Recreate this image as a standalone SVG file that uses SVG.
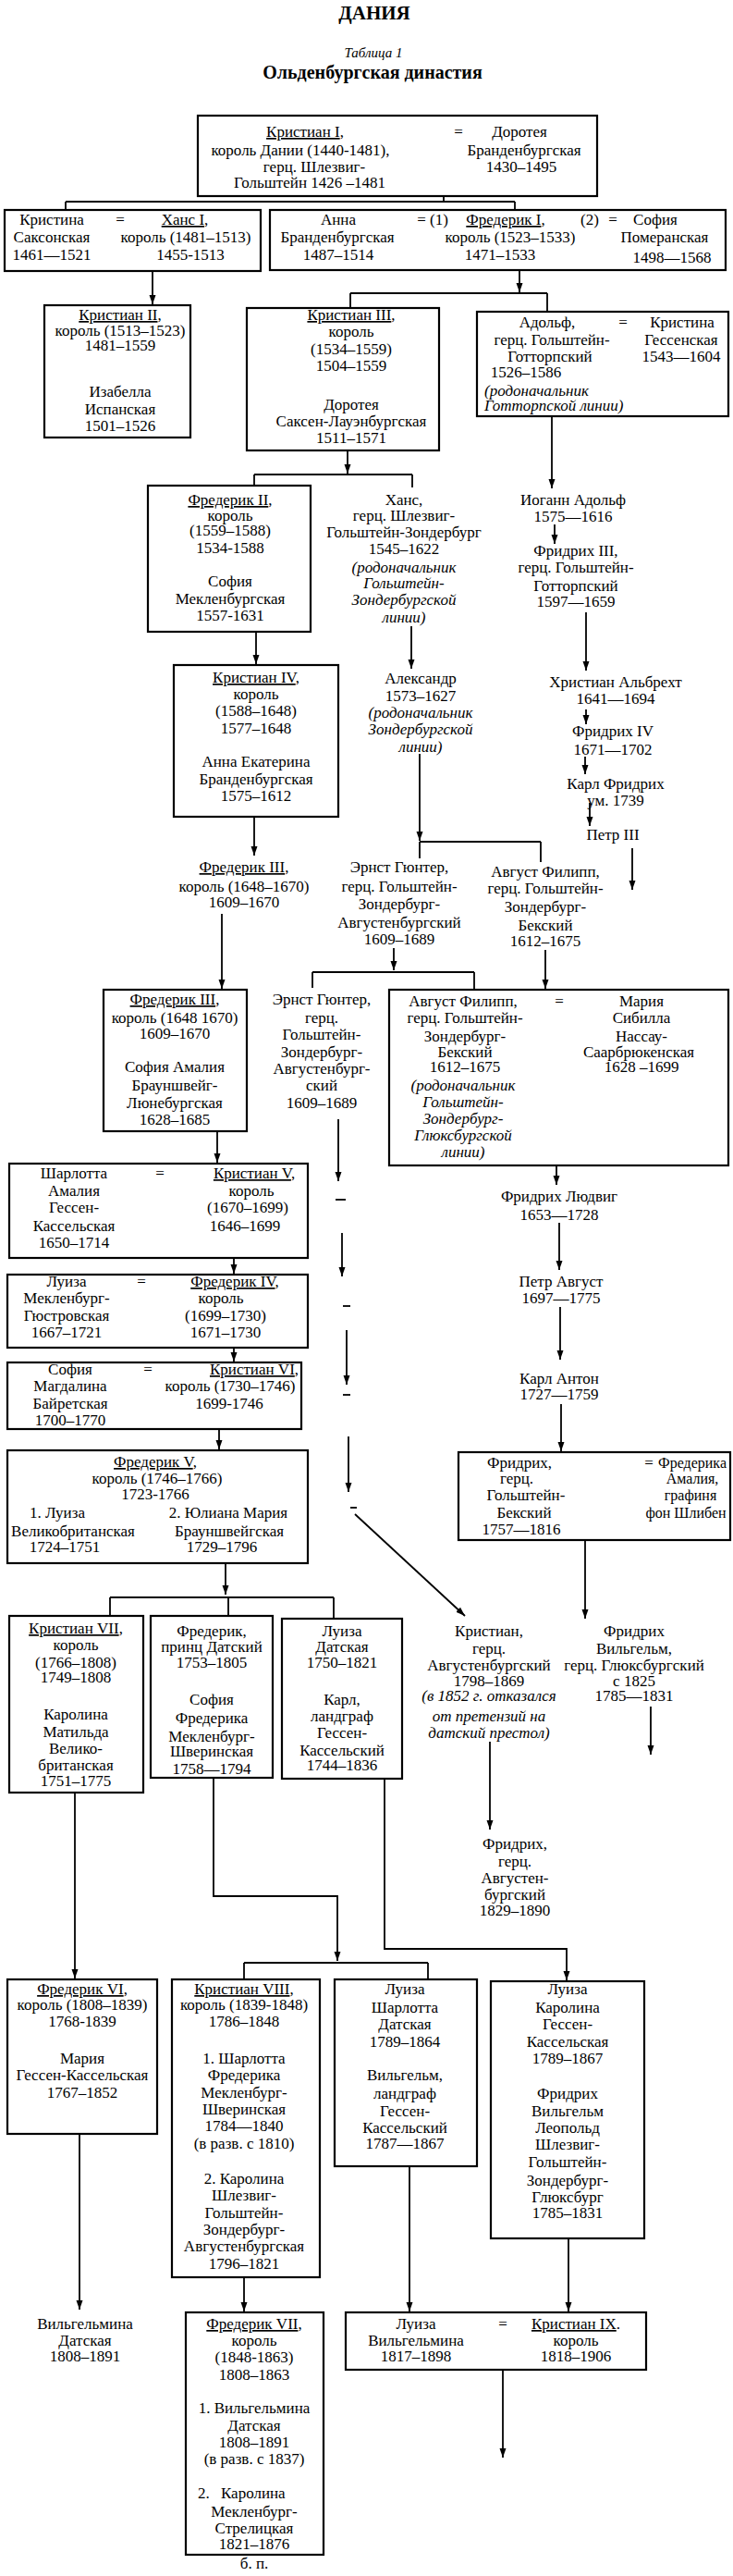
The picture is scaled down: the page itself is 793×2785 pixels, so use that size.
<svg xmlns="http://www.w3.org/2000/svg" width="793" height="2785" viewBox="0 0 793 2785">
<style>
text{font-family:"Liberation Serif","Times New Roman",serif;font-size:17px;fill:#000;text-anchor:middle}
.t{font-weight:bold}
.i{font-style:italic}
.s{text-anchor:start}
.n{font-size:16px}
.b{fill:#fff;stroke:#000;stroke-width:2.2}
.c{fill:none;stroke:#000;stroke-width:1.8}
.a{marker-end:url(#ah)}
</style>
<defs>
<marker id="ah" viewBox="0 0 10 10" refX="10" refY="5" markerWidth="10" markerHeight="10" markerUnits="userSpaceOnUse" orient="auto"><path d="M0,1.5 L10,5 L0,8.5 z" fill="#000"/></marker>
</defs>
<rect width="793" height="2785" fill="#fff"/>
<g id="title">
<text x="405" y="21" class="t" style="font-size:21px">ДАНИЯ</text>
<text x="404" y="62" class="i" style="font-size:15px">Таблица 1</text>
<text x="403" y="85" class="t" style="font-size:20px">Ольденбургская династия</text>
</g>
<g id="connectors">
<path class="c" d="M480,212 V218 M71,218 H557 M71,218 V227 M557,218 V227"/>
<path class="c a" d="M165,293 V329"/>
<path class="c a" d="M562,292 V316"/>
<path class="c" d="M379,317 H592 M379,317 V333 M592,317 V337"/>
<path class="c a" d="M597,450 V528"/>
<path class="c a" d="M376,487 V512"/>
<path class="c" d="M275,513 H446 M275,513 V525 M446,513 V527"/>
<path class="c a" d="M445,677 V723"/>
<path class="c a" d="M600,567 V588"/>
<path class="c a" d="M634,662 V725"/>
<path class="c a" d="M277,683 V718"/>
<path class="c a" d="M454,815 V909"/>
<path class="c" d="M454,910 H585 M454,910 V928 M585,910 V932"/>
<path class="c a" d="M634,767 V783"/>
<path class="c a" d="M633,818 V837"/>
<path class="c a" d="M638,868 V893"/>
<path class="c a" d="M684,917 V962"/>
<path class="c a" d="M275,883 V925"/>
<path class="c a" d="M240,988 V1069"/>
<path class="c a" d="M426,1025 V1049"/>
<path class="c" d="M338,1051 H513 M338,1051 V1068 M513,1051 V1070"/>
<path class="c a" d="M590,1027 V1069"/>
<path class="c a" d="M602,1260 V1281"/>
<path class="c a" d="M605,1322 V1373"/>
<path class="c a" d="M606,1413 V1470"/>
<path class="c a" d="M607,1518 V1569"/>
<path class="c a" d="M633,1665 V1750"/>
<path class="c a" d="M704,1845 V1897"/>
<path class="c a" d="M235,1223 V1257"/>
<path class="c a" d="M253,1360 V1377"/>
<path class="c a" d="M253,1457 V1472"/>
<path class="c a" d="M237,1545 V1567"/>
<path class="c a" d="M244,1690 V1724"/>
<path class="c" d="M119,1727 H361 M119,1727 V1747 M247,1727 V1747 M361,1727 V1750"/>
<path class="c a" d="M366,1210 V1277"/>
<path class="c" d="M363,1297 H374"/>
<path class="c a" d="M370,1333 V1380"/>
<path class="c" d="M371,1412 H379"/>
<path class="c a" d="M375,1438 V1497"/>
<path class="c" d="M371,1508 H379"/>
<path class="c a" d="M377,1553 V1613"/>
<path class="c" d="M379,1630 H386"/>
<path class="c a" d="M384,1637 L503,1747"/>
<path class="c a" d="M530,1883 V1978"/>
<path class="c a" d="M81,1938 V2139"/>
<path class="c a" d="M231,1922 V2050 H365 V2120"/>
<path class="c" d="M264,2122 H463 M264,2122 V2140 M463,2122 V2140"/>
<path class="c a" d="M416,1923 V2107 H613 V2141"/>
<path class="c a" d="M86,2307 V2497"/>
<path class="c a" d="M264,2462 V2499"/>
<path class="c a" d="M443,2342 V2499"/>
<path class="c a" d="M615,2420 V2499"/>
<path class="c a" d="M544,2562 V2657"/>
</g>
<g id="christian1">
<rect class="b" x="214" y="125" width="432" height="87"/>
<text x="330" y="148"><tspan text-decoration="underline">Кристиан I</tspan>,</text>
<text x="496" y="148">=</text>
<text x="562" y="148">Доротея</text>
<text x="325" y="168">король Дании (1440-1481),</text>
<text x="567" y="168">Бранденбургская</text>
<text x="340" y="186">герц.  Шлезвиг-</text>
<text x="564" y="186">1430–1495</text>
<text x="335" y="203">Гольштейн 1426 –1481</text>
</g>
<g id="hans1">
<rect class="b" x="5" y="227" width="277" height="66"/>
<text x="56" y="243">Кристина</text>
<text x="130" y="243">=</text>
<text x="200" y="243"><tspan text-decoration="underline">Ханс I</tspan>,</text>
<text x="56" y="262">Саксонская</text>
<text x="201" y="262">король (1481–1513)</text>
<text x="56" y="281">1461—1521</text>
<text x="206" y="281">1455-1513</text>
</g>
<g id="frederik1">
<rect class="b" x="292" y="227" width="493" height="65"/>
<text x="366" y="243">Анна</text>
<text x="468" y="243">= (1)</text>
<text x="547" y="243"><tspan text-decoration="underline">Фредерик I</tspan>,</text>
<text x="638" y="243">(2)</text>
<text x="663" y="243">=</text>
<text x="709" y="243">София</text>
<text x="365" y="262">Бранденбургская</text>
<text x="552" y="262">король (1523–1533)</text>
<text x="719" y="262">Померанская</text>
<text x="366" y="281">1487–1514</text>
<text x="541" y="281">1471–1533</text>
<text x="727" y="284">1498—1568</text>
</g>
<g id="christian2">
<rect class="b" x="48" y="330" width="158" height="143"/>
<text x="130" y="346"><tspan text-decoration="underline">Кристиан II</tspan>,</text>
<text x="130" y="363">король (1513–1523)</text>
<text x="130" y="379">1481–1559</text>
<text x="130" y="429">Изабелла</text>
<text x="130" y="448">Испанская</text>
<text x="130" y="466">1501–1526</text>
</g>
<g id="christian3">
<rect class="b" x="267" y="333" width="208" height="154"/>
<text x="380" y="346"><tspan text-decoration="underline">Кристиан III</tspan>,</text>
<text x="380" y="364">король</text>
<text x="380" y="383">(1534–1559)</text>
<text x="380" y="401">1504–1559</text>
<text x="380" y="443">Доротея</text>
<text x="380" y="461">Саксен-Лауэнбургская</text>
<text x="380" y="479">1511–1571</text>
</g>
<g id="adolf">
<rect class="b" x="516" y="337" width="272" height="113"/>
<text x="592" y="354">Адольф,</text>
<text x="674" y="354">=</text>
<text x="738" y="354">Кристина</text>
<text x="597" y="373">герц. Гольштейн-</text>
<text x="737" y="373">Гессенская</text>
<text x="595" y="391">Готторпский</text>
<text x="737" y="391">1543—1604</text>
<text x="569" y="408">1526–1586</text>
<text x="524" y="428" class="i s">(родоначальник</text>
<text x="524" y="444" class="i s">Готторпской линии)</text>
</g>
<g id="frederik2">
<rect class="b" x="160" y="525" width="176" height="158"/>
<text x="249" y="546"><tspan text-decoration="underline">Фредерик II</tspan>,</text>
<text x="249" y="563">король</text>
<text x="249" y="579">(1559–1588)</text>
<text x="249" y="598">1534-1588</text>
<text x="249" y="634">София</text>
<text x="249" y="653">Мекленбургская</text>
<text x="249" y="671">1557-1631</text>
</g>
<g id="hans">
<text x="437" y="546">Ханс,</text>
<text x="437" y="563">герц. Шлезвиг-</text>
<text x="437" y="581">Гольштейн-Зондербург</text>
<text x="437" y="599">1545–1622</text>
<text x="437" y="619" class="i">(родоначальник</text>
<text x="437" y="636" class="i">Гольштейн-</text>
<text x="437" y="654" class="i">Зондербургской</text>
<text x="437" y="673" class="i">линии)</text>
</g>
<g id="johann-adolf">
<text x="620" y="546">Иоганн Адольф</text>
<text x="620" y="564">1575—1616</text>
</g>
<g id="friedrich3-g">
<text x="623" y="601">Фридрих III,</text>
<text x="623" y="619">герц. Гольштейн-</text>
<text x="623" y="639">Готторпский</text>
<text x="623" y="656">1597—1659</text>
</g>
<g id="christian4">
<rect class="b" x="188" y="719" width="178" height="164"/>
<text x="277" y="738"><tspan text-decoration="underline">Кристиан IV</tspan>,</text>
<text x="277" y="756">король</text>
<text x="277" y="774">(1588–1648)</text>
<text x="277" y="793">1577–1648</text>
<text x="277" y="829">Анна Екатерина</text>
<text x="277" y="848">Бранденбургская</text>
<text x="277" y="866">1575–1612</text>
</g>
<g id="alexander">
<text x="455" y="739">Александр</text>
<text x="455" y="758">1573–1627</text>
<text x="455" y="776" class="i">(родоначальник</text>
<text x="455" y="794" class="i">Зондербургской</text>
<text x="455" y="813" class="i">линии)</text>
</g>
<g id="christian-albrecht">
<text x="666" y="743">Христиан Альбрехт</text>
<text x="666" y="761">1641—1694</text>
</g>
<g id="friedrich4-g">
<text x="663" y="796">Фридрих IV</text>
<text x="663" y="816">1671—1702</text>
</g>
<g id="karl-friedrich">
<text x="666" y="853">Карл Фридрих</text>
<text x="666" y="871">ум. 1739</text>
</g>
<g id="peter3">
<text x="663" y="908">Петр III</text>
</g>
<g id="frederik3-a">
<text x="264" y="943"><tspan text-decoration="underline">Фредерик III</tspan>,</text>
<text x="264" y="964">король (1648–1670)</text>
<text x="264" y="981">1609–1670</text>
</g>
<g id="ernst-a">
<text x="432" y="943">Эрнст Гюнтер,</text>
<text x="432" y="964">герц. Гольштейн-</text>
<text x="432" y="983">Зондербург-</text>
<text x="432" y="1003">Августенбургский</text>
<text x="432" y="1021">1609–1689</text>
</g>
<g id="august-a">
<text x="590" y="948">Август Филипп,</text>
<text x="590" y="966">герц. Гольштейн-</text>
<text x="590" y="986">Зондербург-</text>
<text x="590" y="1006">Бекский</text>
<text x="590" y="1023">1612–1675</text>
</g>
<g id="frederik3-b">
<rect class="b" x="112" y="1070" width="155" height="153"/>
<text x="189" y="1086"><tspan text-decoration="underline">Фредерик III</tspan>,</text>
<text x="189" y="1106">король (1648 1670)</text>
<text x="189" y="1123">1609–1670</text>
<text x="189" y="1159">София Амалия</text>
<text x="189" y="1179">Брауншвейг-</text>
<text x="189" y="1198">Люнебургская</text>
<text x="189" y="1216">1628–1685</text>
</g>
<g id="ernst-b">
<text x="348" y="1086">Эрнст Гюнтер,</text>
<text x="348" y="1106">герц.</text>
<text x="348" y="1124">Гольштейн-</text>
<text x="348" y="1143">Зондербург-</text>
<text x="348" y="1161">Августенбург-</text>
<text x="348" y="1179">ский</text>
<text x="348" y="1198">1609–1689</text>
</g>
<g id="august-b">
<rect class="b" x="421" y="1070" width="367" height="190"/>
<text x="501" y="1088">Август Филипп,</text>
<text x="605" y="1088">=</text>
<text x="694" y="1088">Мария</text>
<text x="503" y="1106">герц. Гольштейн-</text>
<text x="694" y="1106">Сибилла</text>
<text x="503" y="1126">Зондербург-</text>
<text x="694" y="1126">Нассау-</text>
<text x="503" y="1143">Бекский</text>
<text x="691" y="1143">Саарбрюкенская</text>
<text x="503" y="1159">1612–1675</text>
<text x="694" y="1159">1628 –1699</text>
<text x="501" y="1179" class="i">(родоначальник</text>
<text x="501" y="1197" class="i">Гольштейн-</text>
<text x="501" y="1215" class="i">Зондербург-</text>
<text x="501" y="1233" class="i">Глюксбургской</text>
<text x="501" y="1251" class="i">линии)</text>
</g>
<g id="friedrich-ludwig">
<text x="605" y="1299">Фридрих Людвиг</text>
<text x="605" y="1319">1653—1728</text>
</g>
<g id="peter-august">
<text x="607" y="1391">Петр Август</text>
<text x="607" y="1409">1697—1775</text>
</g>
<g id="karl-anton">
<text x="605" y="1496">Карл Антон</text>
<text x="605" y="1513">1727—1759</text>
</g>
<g id="friedrich-beck">
<rect class="b" x="496" y="1570" width="294" height="95"/>
<text x="562" y="1587">Фридрих,</text>
<text x="702" y="1587">=</text>
<text x="749" y="1587" class="n">Фредерика</text>
<text x="559" y="1604">герц.</text>
<text x="749" y="1604" class="n">Амалия,</text>
<text x="569" y="1622">Гольштейн-</text>
<text x="747" y="1622" class="n">графиня</text>
<text x="567" y="1641">Бекский</text>
<text x="742" y="1641" class="n">фон Шлибен</text>
<text x="564" y="1659">1757—1816</text>
</g>
<g id="friedrich-wilhelm">
<text x="686" y="1769">Фридрих</text>
<text x="686" y="1788">Вильгельм,</text>
<text x="686" y="1806">герц. Глюксбургский</text>
<text x="686" y="1823">с 1825</text>
<text x="686" y="1839">1785—1831</text>
</g>
<g id="christian5">
<rect class="b" x="10" y="1258" width="323" height="102"/>
<text x="80" y="1274">Шарлотта</text>
<text x="173" y="1274">=</text>
<text x="275" y="1274"><tspan text-decoration="underline">Кристиан V</tspan>,</text>
<text x="80" y="1293">Амалия</text>
<text x="272" y="1293">король</text>
<text x="80" y="1311">Гессен-</text>
<text x="268" y="1311">(1670–1699)</text>
<text x="80" y="1331">Кассельская</text>
<text x="265" y="1331">1646–1699</text>
<text x="80" y="1349">1650–1714</text>
</g>
<g id="frederik4">
<rect class="b" x="8" y="1378" width="325" height="79"/>
<text x="72" y="1391">Луиза</text>
<text x="153" y="1391">=</text>
<text x="254" y="1391"><tspan text-decoration="underline">Фредерик IV</tspan>,</text>
<text x="72" y="1409">Мекленбург-</text>
<text x="239" y="1409">король</text>
<text x="72" y="1428">Гюстровская</text>
<text x="244" y="1428">(1699–1730)</text>
<text x="72" y="1446">1667–1721</text>
<text x="244" y="1446">1671–1730</text>
</g>
<g id="christian6">
<rect class="b" x="8" y="1473" width="318" height="72"/>
<text x="76" y="1486">София</text>
<text x="160" y="1486">=</text>
<text x="275" y="1486"><tspan text-decoration="underline">Кристиан VI</tspan>,</text>
<text x="76" y="1504">Магдалина</text>
<text x="249" y="1504">король (1730–1746)</text>
<text x="76" y="1523">Байретская</text>
<text x="248" y="1523">1699-1746</text>
<text x="76" y="1541">1700–1770</text>
</g>
<g id="frederik5">
<rect class="b" x="8" y="1568" width="325" height="122"/>
<text x="168" y="1586"><tspan text-decoration="underline">Фредерик V</tspan>,</text>
<text x="170" y="1604">король (1746–1766)</text>
<text x="168" y="1621">1723-1766</text>
<text x="62" y="1641">1. Луиза</text>
<text x="247" y="1641">2. Юлиана Мария</text>
<text x="79" y="1661">Великобританская</text>
<text x="248" y="1661">Брауншвейгская</text>
<text x="70" y="1678">1724–1751</text>
<text x="240" y="1678">1729–1796</text>
</g>
<g id="christian7">
<rect class="b" x="10" y="1747" width="145" height="191"/>
<text x="82" y="1766"><tspan text-decoration="underline">Кристиан VII</tspan>,</text>
<text x="82" y="1784">король</text>
<text x="82" y="1803">(1766–1808)</text>
<text x="82" y="1819">1749–1808</text>
<text x="82" y="1859">Каролина</text>
<text x="82" y="1878">Матильда</text>
<text x="82" y="1896">Велико-</text>
<text x="82" y="1914">британская</text>
<text x="82" y="1931">1751–1775</text>
</g>
<g id="frederik-prince">
<rect class="b" x="163" y="1747" width="132" height="175"/>
<text x="229" y="1769">Фредерик,</text>
<text x="229" y="1786">принц Датский</text>
<text x="229" y="1803">1753–1805</text>
<text x="229" y="1843">София</text>
<text x="229" y="1863">Фредерика</text>
<text x="229" y="1883">Мекленбург-</text>
<text x="229" y="1899">Шверинская</text>
<text x="229" y="1918">1758—1794</text>
</g>
<g id="louise-dk">
<rect class="b" x="305" y="1750" width="130" height="173"/>
<text x="370" y="1769">Луиза</text>
<text x="370" y="1786">Датская</text>
<text x="370" y="1803">1750–1821</text>
<text x="370" y="1843">Карл,</text>
<text x="370" y="1861">ландграф</text>
<text x="370" y="1879">Гессен-</text>
<text x="370" y="1898">Кассельский</text>
<text x="370" y="1914">1744–1836</text>
</g>
<g id="christian-aug">
<text x="529" y="1769">Кристиан,</text>
<text x="529" y="1788">герц.</text>
<text x="529" y="1806">Августенбургский</text>
<text x="529" y="1823">1798–1869</text>
<text x="529" y="1839" class="i">(в 1852 г. отказался</text>
<text x="529" y="1861" class="i">от претензий на</text>
<text x="529" y="1879" class="i">датский престол)</text>
</g>
<g id="friedrich-aug">
<text x="557" y="1999">Фридрих,</text>
<text x="557" y="2018">герц.</text>
<text x="557" y="2036">Августен-</text>
<text x="557" y="2054">бургский</text>
<text x="557" y="2071">1829–1890</text>
</g>
<g id="frederik6">
<rect class="b" x="8" y="2140" width="162" height="167"/>
<text x="89" y="2156"><tspan text-decoration="underline">Фредерик VI</tspan>,</text>
<text x="89" y="2173">король (1808–1839)</text>
<text x="89" y="2191">1768-1839</text>
<text x="89" y="2231">Мария</text>
<text x="89" y="2249">Гессен-Кассельская</text>
<text x="89" y="2268">1767–1852</text>
</g>
<g id="christian8">
<rect class="b" x="186" y="2140" width="160" height="322"/>
<text x="264" y="2156"><tspan text-decoration="underline">Кристиан VIII</tspan>,</text>
<text x="264" y="2173">король (1839-1848)</text>
<text x="264" y="2191">1786–1848</text>
<text x="264" y="2231">1. Шарлотта</text>
<text x="264" y="2249">Фредерика</text>
<text x="264" y="2268">Мекленбург-</text>
<text x="264" y="2286">Шверинская</text>
<text x="264" y="2304">1784—1840</text>
<text x="264" y="2323">(в разв. с 1810)</text>
<text x="264" y="2361">2. Каролина</text>
<text x="264" y="2379">Шлезвиг-</text>
<text x="264" y="2398">Гольштейн-</text>
<text x="264" y="2416">Зондербург-</text>
<text x="264" y="2434">Августенбургская</text>
<text x="264" y="2453">1796–1821</text>
</g>
<g id="louise-charlotte">
<rect class="b" x="362" y="2140" width="154" height="202"/>
<text x="438" y="2156">Луиза</text>
<text x="438" y="2176">Шарлотта</text>
<text x="438" y="2194">Датская</text>
<text x="438" y="2213">1789–1864</text>
<text x="438" y="2249">Вильгельм,</text>
<text x="438" y="2269">ландграф</text>
<text x="438" y="2288">Гессен-</text>
<text x="438" y="2306">Кассельский</text>
<text x="438" y="2323">1787—1867</text>
</g>
<g id="louise-caroline">
<rect class="b" x="531" y="2142" width="166" height="278"/>
<text x="614" y="2156">Луиза</text>
<text x="614" y="2176">Каролина</text>
<text x="614" y="2194">Гессен-</text>
<text x="614" y="2213">Кассельская</text>
<text x="614" y="2231">1789–1867</text>
<text x="614" y="2269">Фридрих</text>
<text x="614" y="2288">Вильгельм</text>
<text x="614" y="2306">Леопольд</text>
<text x="614" y="2324">Шлезвиг-</text>
<text x="614" y="2343">Гольштейн-</text>
<text x="614" y="2363">Зондербург-</text>
<text x="614" y="2381">Глюксбург</text>
<text x="614" y="2398">1785–1831</text>
</g>
<g id="wilhelmina">
<text x="92" y="2518">Вильгельмина</text>
<text x="92" y="2536">Датская</text>
<text x="92" y="2553">1808–1891</text>
</g>
<g id="frederik7">
<rect class="b" x="201" y="2500" width="149" height="262"/>
<text x="275" y="2518"><tspan text-decoration="underline">Фредерик VII</tspan>,</text>
<text x="275" y="2536">король</text>
<text x="275" y="2554">(1848-1863)</text>
<text x="275" y="2573">1808–1863</text>
<text x="275" y="2609">1. Вильгельмина</text>
<text x="275" y="2628">Датская</text>
<text x="275" y="2646">1808–1891</text>
<text x="275" y="2664">(в разв. с 1837)</text>
<text x="214" y="2701" class="s">2.<tspan x="239">Каролина</tspan></text>
<text x="275" y="2721">Мекленбург-</text>
<text x="275" y="2739">Стрелицкая</text>
<text x="275" y="2756">1821–1876</text>
<text x="275" y="2777">б. п.</text>
</g>
<g id="christian9">
<rect class="b" x="374" y="2500" width="325" height="62"/>
<text x="450" y="2518">Луиза</text>
<text x="544" y="2518">=</text>
<text x="623" y="2518"><tspan text-decoration="underline">Кристиан IX</tspan>.</text>
<text x="450" y="2536">Вильгельмина</text>
<text x="623" y="2536">король</text>
<text x="450" y="2553">1817–1898</text>
<text x="623" y="2553">1818–1906</text>
</g>
</svg>
